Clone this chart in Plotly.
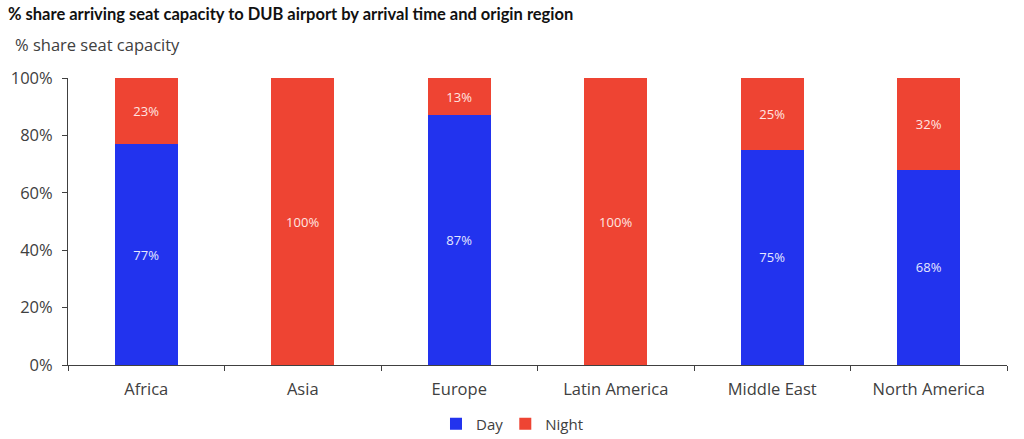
import plotly.graph_objects as go

regions = ["Africa", "Asia", "Europe", "Latin America", "Middle East", "North America"]
day_share = [77, 0, 87, 0, 75, 68]
night_share = [23, 100, 13, 100, 25, 32]
y_ticks = [0, 20, 40, 60, 80, 100]

DAY_COLOR = "#2233EE"
NIGHT_COLOR = "#EE4433"
FONT = "Open Sans, sans-serif"
TITLE_FONT = "Lato, Open Sans, sans-serif"


def _labels(values):
    return [f"{v}%" if v > 0 else "" for v in values]


def _legend_box(x):
    return dict(
        orientation="h",
        x=x,
        xanchor="left",
        y=-59 / 287,
        yanchor="middle",
        font=dict(size=15, color="#404040"),
        bgcolor="rgba(0,0,0,0)",
    )


fig = go.Figure()
fig.add_trace(
    go.Bar(
        x=regions,
        y=day_share,
        name="Day",
        legend="legend",
        showlegend=True,
        marker=dict(color=DAY_COLOR, line=dict(width=0)),
        text=_labels(day_share),
        textposition="inside",
        insidetextanchor="middle",
        textfont=dict(color="#e6e8ff", size=13, family=FONT),
    )
)
fig.add_trace(
    go.Bar(
        x=regions,
        y=night_share,
        name="Night",
        legend="legend2",
        showlegend=True,
        marker=dict(color=NIGHT_COLOR, line=dict(width=0)),
        text=_labels(night_share),
        textposition="inside",
        insidetextanchor="middle",
        textfont=dict(color="#ffe6e2", size=13, family=FONT),
    )
)

fig.update_layout(
    barmode="stack",
    bargap=0.6,
    width=1024,
    height=439,
    showlegend=True,
    margin=dict(l=68, r=17, t=78, b=74, autoexpand=False),
    plot_bgcolor="white",
    paper_bgcolor="white",
    font=dict(family=FONT, color="#404040", size=14),
    uniformtext=dict(mode="show", minsize=10),
    title=dict(
        text="<b>% share arriving seat capacity to DUB airport by arrival time and origin region</b>",
        x=8 / 1024,
        xanchor="left",
        xref="container",
        y=1 - 14 / 439,
        yanchor="middle",
        yref="container",
        font=dict(size=16.5, color="#111111", family=TITLE_FONT),
    ),
    legend=_legend_box(0.3919),
    legend2=_legend_box(0.4657),
    annotations=[
        dict(
            text="% share seat capacity",
            xref="paper",
            yref="paper",
            x=-55 / 939,
            y=1 + 34 / 287,
            xanchor="left",
            yanchor="middle",
            showarrow=False,
            font=dict(size=16.5, color="#404040", family=FONT),
        ),
    ],
)
fig.update_xaxes(
    automargin=False,
    showline=True,
    linecolor="#404040",
    linewidth=1,
    ticks="outside",
    tickson="boundaries",
    ticklen=5,
    tickcolor="#404040",
    ticklabelstandoff=9,
    showgrid=False,
    tickfont=dict(size=16.5, color="#404040"),
)
fig.update_yaxes(
    automargin=False,
    range=[0, 100],
    tickvals=y_ticks,
    ticktext=[f"{v}%" for v in y_ticks],
    showline=True,
    linecolor="#404040",
    linewidth=1,
    ticks="outside",
    ticklen=5,
    tickcolor="#404040",
    ticklabelstandoff=6,
    showgrid=False,
    zeroline=False,
    tickfont=dict(size=16.5, color="#404040"),
)

fig.write_html(
    "out.html",
    config={"displayModeBar": False},
    post_script="document.body.style.margin = '0';",
)
